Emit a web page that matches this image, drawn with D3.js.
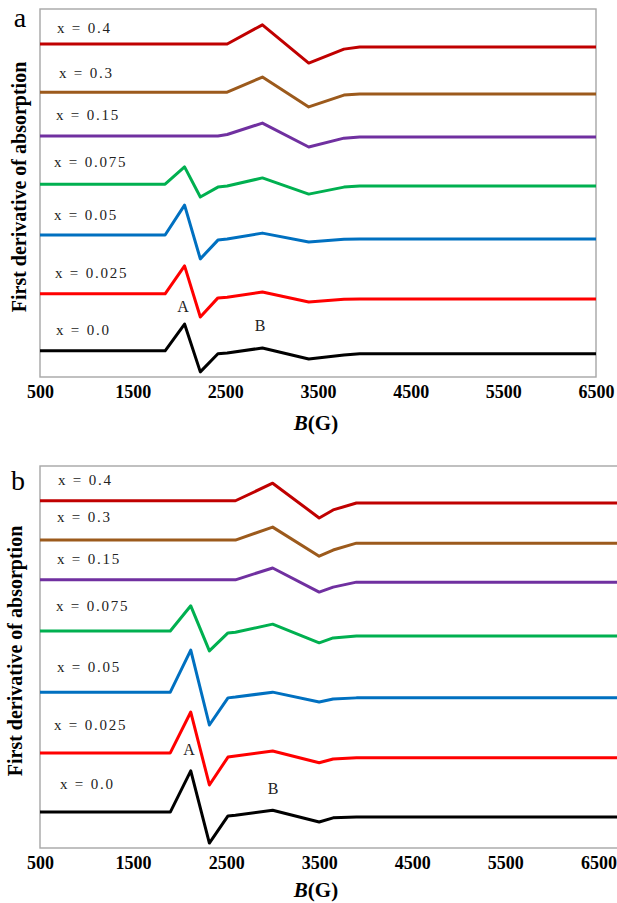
<!DOCTYPE html>
<html>
<head>
<meta charset="utf-8">
<script src="https://cdn.jsdelivr.net/npm/d3@7"></script>
<style>
	body { margin: 0; background: #ffffff; }
	text { font-family: "Liberation Serif", "Times New Roman", serif; }
</style>
</head>
<body>
<div id="epr-box"></div>
<script>
// Magnetic field (G) sampled along each curve
const fieldA = [500, 1850, 2060, 2230, 2420, 2520, 2900, 3400, 3780, 3950, 6500];
const fieldB = [500, 1900, 2120, 2320, 2520, 2600, 3000, 3500, 3650, 3900, 6700];

const seriesNames = ["x = 0.4", "x = 0.3", "x = 0.15", "x = 0.075", "x = 0.05", "x = 0.025", "x = 0.0"];

// Panel a, first derivative (arb. units, stacked)
const a040 = [90.5, 90.5, 90.5, 90.5, 90.5, 90.5, 95.7, 85.3, 89.1, 89.7, 89.7];
const a030 = [77.4, 77.4, 77.4, 77.4, 77.4, 77.4, 81.5, 73.4, 76.6, 76.9, 76.9];
const a015 = [65.5, 65.5, 65.5, 65.5, 65.5, 65.9, 69.0, 62.5, 64.9, 65.2, 65.2];
const a0075 = [52.4, 52.4, 57.1, 48.9, 51.6, 51.9, 54.1, 49.7, 51.6, 51.9, 51.9];
const a005 = [38.6, 38.6, 46.7, 32.1, 37.2, 37.5, 39.1, 36.7, 37.4, 37.5, 37.5];
const a0025 = [22.6, 22.6, 30.2, 16.3, 21.5, 21.7, 23.1, 20.4, 21.1, 21.2, 21.2];
const a000 = [7.1, 7.1, 14.4, 1.4, 6.3, 6.5, 7.9, 4.9, 6.0, 6.3, 6.3];

// Panel b, first derivative (arb. units, stacked)
const b040 = [90.9, 90.9, 90.9, 90.9, 90.9, 90.9, 95.5, 86.4, 88.5, 90.3, 90.3];
const b030 = [80.6, 80.6, 80.6, 80.6, 80.6, 80.6, 84.0, 76.4, 78.0, 79.8, 79.8];
const b015 = [70.2, 70.2, 70.2, 70.2, 70.2, 70.2, 73.3, 67.0, 68.3, 69.6, 69.6];
const b0075 = [56.8, 56.8, 63.4, 51.6, 56.3, 56.5, 58.6, 53.7, 55.0, 55.5, 55.5];
const b005 = [40.8, 40.8, 51.8, 32.2, 39.3, 39.5, 40.8, 38.2, 39.0, 39.3, 39.3];
const b0025 = [24.9, 24.9, 35.6, 16.5, 23.8, 24.1, 25.4, 22.3, 23.3, 23.6, 23.6];
const b000 = [9.4, 9.4, 20.2, 1.3, 8.4, 8.6, 9.9, 6.8, 7.9, 8.1, 8.1];

const tickLabels = [500, 1500, 2500, 3500, 4500, 5500, 6500];

// Peak markers A and B: [field, value]
const peaksA = [[2043, 19.0], [2874, 13.9]];
const peaksB = [[2102, 25.7], [3005, 15.4]];

const lineColors = ["#c00000", "#9c5a1c", "#7030a0", "#00b050", "#0070c0", "#ff0000", "#000000"];

const serif = "'Liberation Serif', 'Times New Roman', serif";

const eprPlot=
{
	draw: function ()
	{
		const w = 617;
		const h = 903;
		const svg = d3.select("#epr-box")
		.append("svg")
		.attr("width", w)
		.attr("height", h)
		.style("background", "#ffffff");

		this.plotPanel(svg, {
			letter: "a", letterX: 20, letterY: 27,
			field: fieldA, series: [a040, a030, a015, a0075, a005, a0025, a000],
			domainX: [500, 6500], rangeX: [40, 596],
			top: 9, bottom: 377,
			labelDy: [16, 19, 21, 22, 20, 21, 21],
			labelX: [57, 59, 56, 54, 54, 55, 56],
			peaks: peaksA, ylabelX: 19, titleDy: 53
		});
		this.plotPanel(svg, {
			letter: "b", letterX: 18, letterY: 490,
			field: fieldB, series: [b040, b030, b015, b0075, b005, b0025, b000],
			domainX: [500, 6700], rangeX: [40, 617],
			top: 466, bottom: 848,
			labelDy: [21, 23, 21, 25, 25, 28, 28],
			labelX: [58, 57, 57, 56, 57, 54, 60],
			peaks: peaksB, ylabelX: 15, titleDy: 49
		});
	},
	plotPanel: function (svg, p)
	{
		const xScale = d3.scaleLinear()
		 .domain(p.domainX)
		 .range(p.rangeX);
		const yScale = d3.scaleLinear()
		 .domain([0, 100])
		 .range([p.bottom, p.top]);

		// frame
		svg.append("rect")
		 .attr("x", p.rangeX[0])
		 .attr("y", p.top)
		 .attr("width", p.rangeX[1] - p.rangeX[0] + (p.rangeX[1] >= 617 ? 4 : 0))
		 .attr("height", p.bottom - p.top)
		 .style("fill", "none")
		 .style("stroke", "#a6a6a6")
		 .style("stroke-width", 1.4);

		// X axis
		const xAxis = d3.axisBottom(xScale)
		 .tickValues(tickLabels)
		 .tickSize(0)
		 .tickPadding(8)
		 .tickFormat(d3.format("d"));
		const gx = svg.append("g")
		 .attr("transform", "translate(0," + p.bottom + ")")
		 .call(xAxis);
		gx.select(".domain").remove();
		gx.selectAll("text")
		 .style("font-family", serif)
		 .style("font-size", "18px")
		 .style("font-weight", "bold")
		 .style("fill", "#000");

		// curves
		const line = d3.line()
		 .x((d, i) => xScale(p.field[i]))
		 .y(d => yScale(d));
		svg.selectAll(null)
		 .data(p.series)
		 .enter()
		 .append("path")
		 .attr("d", d => line(d))
		 .style("fill", "none")
		 .style("stroke", (d, i) => lineColors[i])
		 .style("stroke-width", 3)
		 .style("stroke-linejoin", "round");

		// composition labels
		svg.selectAll(null)
		 .data(p.series)
		 .enter()
		 .append("text")
		 .attr("x", (d, i) => p.labelX[i])
		 .attr("y", (d, i) => yScale(d[0]) - p.labelDy[i] + 5)
		 .style("font-family", serif)
		 .style("font-size", "15px")
		 .style("letter-spacing", "1.8px")
		 .style("fill", "#222")
		 .text((d, i) => seriesNames[i]);

		// peak letters
		svg.selectAll(null)
		 .data(p.peaks)
		 .enter()
		 .append("text")
		 .attr("x", d => xScale(d[0]))
		 .attr("y", d => yScale(d[1]) + 5)
		 .attr("text-anchor", "middle")
		 .style("font-family", serif)
		 .style("font-size", "16px")
		 .style("fill", "#222")
		 .text((d, i) => i === 0 ? "A" : "B");

		// axis titles
		const title = svg.append("text")
		 .attr("x", 316)
		 .attr("y", p.bottom + p.titleDy)
		 .attr("text-anchor", "middle")
		 .style("font-family", serif)
		 .style("font-size", "21px")
		 .style("font-weight", "bold");
		title.append("tspan").style("font-style", "italic").text("B");
		title.append("tspan").text("(G)");

		svg.append("text")
		 .attr("transform", "translate(" + p.ylabelX + "," + ((p.top + p.bottom) / 2 - 6) + ") rotate(-90)")
		 .attr("text-anchor", "middle")
		 .attr("dy", "0.35em")
		 .style("font-family", serif)
		 .style("font-size", "20px")
		 .style("font-weight", "bold")
		 .text("First derivative of absorption");

		svg.append("text")
		 .attr("x", p.letterX)
		 .attr("y", p.letterY)
		 .attr("text-anchor", "middle")
		 .style("font-family", serif)
		 .style("font-size", "28px")
		 .text(p.letter);
	}
};

document.addEventListener("DOMContentLoaded", function(event)
{
	eprPlot.draw();
});
</script>
</body>
</html>
